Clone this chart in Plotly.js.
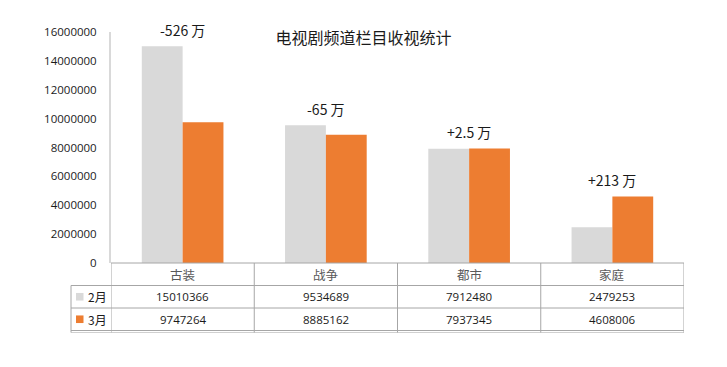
<!DOCTYPE html>
<html><head><meta charset="utf-8">
<script src="https://cdn.plot.ly/plotly-3.0.1.min.js"></script>
<style>html,body{margin:0;padding:0;background:#fff;}</style>
</head><body>
<div id="chart" style="width:727px;height:367px;"></div>
<script>
const categories = ['古装', '战争', '都市', '家庭'];
const seriesNames = ['2月', '3月'];
const feb = [15010366, 9534689, 7912480, 2479253];
const mar = [9747264, 8885162, 7937345, 4608006];
const changeLabels = ['-526 万', '-65 万', '+2.5 万', '+213 万'];
const titleText = '电视剧频道栏目收视统计';

const colors = ['#D9D9D9', '#ED7D31'];
const W = 727, H = 367;
const M = {l: 111, r: 43, t: 32, b: 104};
const plotH = H - M.t - M.b;
const plotW = W - M.l - M.r;
const py = px => (H - M.b - px) / plotH;           // pixel y -> paper y
const pxx = px => (px - M.l) / plotW;              // pixel x -> paper x

const numFont = {family: 'Open Sans, sans-serif', size: 11.5, color: '#1a1a1a'};
const lineCol = '#a6a6a6';

const traces = [feb, mar].map((vals, i) => ({
  type: 'bar', x: categories, y: vals, name: seriesNames[i],
  marker: {color: colors[i]}, hoverinfo: 'skip'
}));

const shapes = [];
const annotations = [];
const rowY = [263, 285.5, 308, 330.5];
shapes.push({type:'line', xref:'paper', yref:'paper', x0:0, x1:1, y0:py(rowY[0]), y1:py(rowY[0]), line:{color:lineCol, width:1}});
for (let r = 1; r < 4; r++) {
  shapes.push({type:'line', xref:'paper', yref:'paper', x0:pxx(71), x1:1, y0:py(rowY[r]), y1:py(rowY[r]), line:{color:lineCol, width:1}});
}
shapes.push({type:'line', xref:'paper', yref:'paper', x0:pxx(71), x1:1, y0:py(332.5), y1:py(332.5), line:{color:'#d0d0d0', width:1}});
for (let k = 0; k <= categories.length; k++) {
  shapes.push({type:'line', xref:'x', yref:'paper', x0:k - 0.5, x1:k - 0.5, y0:py(rowY[0]), y1:py(332.5), line:{color:lineCol, width:1}});
}
shapes.push({type:'line', xref:'paper', yref:'paper', x0:pxx(71), x1:pxx(71), y0:py(rowY[1]), y1:py(332.5), line:{color:lineCol, width:1}});

categories.forEach((c, i) => {
  annotations.push({xref:'x', yref:'paper', x:c, y:py((rowY[0]+rowY[1])/2), text:c, showarrow:false,
    yanchor:'middle', font:{family:'Noto Sans CJK SC, sans-serif', size:12.5, color:'#595959'}});
});
[feb, mar].forEach((vals, r) => {
  const yc = py((rowY[r+1] + rowY[r+2]) / 2);
  vals.forEach((v, i) => {
    annotations.push({xref:'x', yref:'paper', x:categories[i], y:yc, text:String(v), showarrow:false,
      yanchor:'middle', font:numFont});
  });
  shapes.push({type:'rect', xref:'paper', yref:'paper', x0:pxx(76), x1:pxx(83.5), y0:yc - 3.8/plotH, y1:yc + 3.8/plotH,
    fillcolor:colors[r], line:{width:0}});
  annotations.push({xref:'paper', yref:'paper', x:pxx(85.5), y:yc, text:seriesNames[r], showarrow:false,
    xanchor:'left', yanchor:'middle', font:{family:'Noto Sans CJK SC, sans-serif', size:12, color:'#1a1a1a'}});
});
changeLabels.forEach((t, i) => {
  annotations.push({xref:'x', yref:'y', x:categories[i], y:Math.max(feb[i], mar[i]), text:t, showarrow:false,
    yanchor:'bottom', yshift:4, font:{family:'Noto Sans CJK SC, Open Sans, sans-serif', size:14, color:'#1a1a1a'}});
});

const layout = {
  width: W, height: H,
  margin: M,
  paper_bgcolor: '#ffffff', plot_bgcolor: '#ffffff',
  showlegend: false,
  barmode: 'group', bargap: 0.43, bargroupgap: 0,
  title: {text: titleText, x: 0.5, xref: 'container', xanchor: 'center', y: 1 - 38/H, yref: 'container', yanchor: 'middle',
    font: {family: 'Noto Sans CJK SC, sans-serif', size: 16, color: '#1a1a1a'}},
  xaxis: {type: 'category', range: [-0.5, 3.5], showticklabels: false, showgrid: false, zeroline: false, showline: false, ticks: '', fixedrange: true},
  yaxis: {range: [0, 16000000], dtick: 2000000, tickformat: 'd', showgrid: false, zeroline: false,
    showline: true, linecolor: '#d9d9d9', linewidth: 2, ticks: '', ticklabelstandoff: 10,
    tickfont: numFont, fixedrange: true},
  shapes: shapes,
  annotations: annotations
};

Plotly.newPlot('chart', traces, layout, {displayModeBar: false, staticPlot: true});
</script>
</body></html>
